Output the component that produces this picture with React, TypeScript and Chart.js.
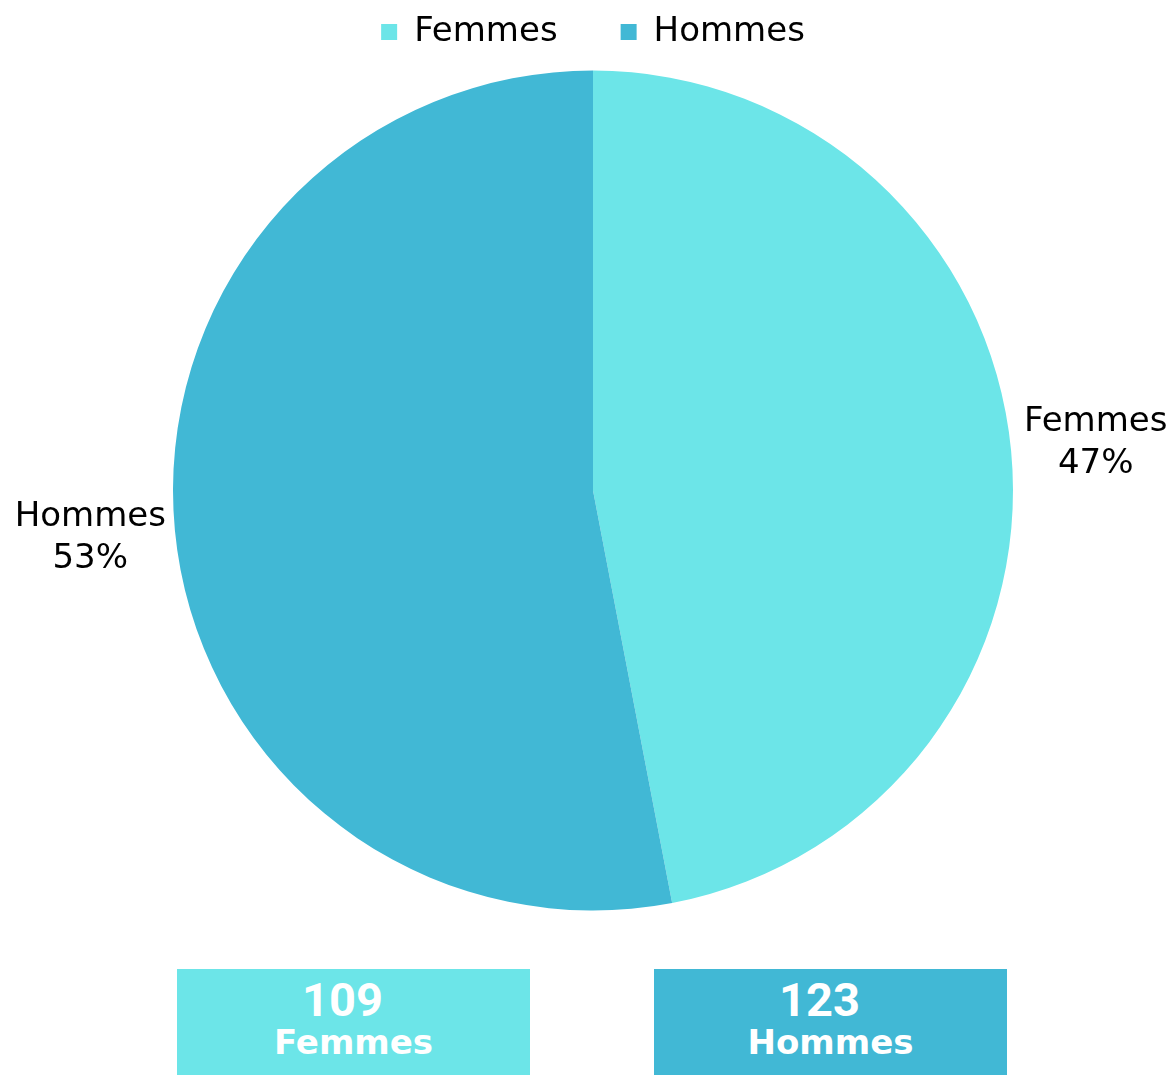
import React, { useEffect, useRef } from "react";
import { Chart, registerables } from "chart.js";

Chart.register(...registerables);

const categories = ["Femmes", "Hommes"];
const counts = [109, 123];
const colors = ["#6CE5E8", "#41B8D5"];

const FONT = '"DejaVu Sans", sans-serif';
const LABEL_OFFSET = 85;

const outsideLabels = {
  id: "outsideLabels",
  afterDatasetsDraw(chart: any) {
    const ctx = chart.ctx;
    const meta = chart.getDatasetMeta(0);
    const data = chart.data.datasets[0].data as number[];
    const total = data.reduce((a: number, b: number) => a + b, 0);
    ctx.save();
    ctx.font = `34px ${FONT}`;
    ctx.fillStyle = "#000";
    ctx.textAlign = "center";
    ctx.textBaseline = "middle";
    meta.data.forEach((arc: any, i: number) => {
      const p = arc.getProps(["x", "y", "startAngle", "endAngle", "outerRadius"], true);
      const mid = (p.startAngle + p.endAngle) / 2;
      const r = p.outerRadius + LABEL_OFFSET;
      const lx = p.x + Math.cos(mid) * r;
      const ly = p.y + Math.sin(mid) * r;
      const pct = Math.round((data[i] / total) * 100);
      ctx.fillText(chart.data.labels[i], lx, ly - 21);
      ctx.fillText(pct + "%", lx, ly + 21);
    });
    ctx.restore();
  },
};

export default function App() {
  const ref = useRef<HTMLCanvasElement>(null);
  useEffect(() => {
    if (!ref.current) return;
    const chart = new Chart(ref.current, {
      type: "pie",
      data: {
        labels: categories,
        datasets: [
          {
            data: counts,
            backgroundColor: colors,
            borderWidth: 0,
            radius: 420,
          } as any,
        ],
      },
      options: {
        responsive: false,
        animation: false,
        layout: { padding: { left: 17, right: 0, top: 0, bottom: 0 } },
        plugins: {
          tooltip: { enabled: false },
          legend: {
            position: "top",
            labels: {
              boxWidth: 16,
              boxHeight: 16,
              padding: 63,
              color: "#000",
              font: { size: 34, family: FONT },
            },
          },
        },
      },
      plugins: [outsideLabels],
    });
    return () => chart.destroy();
  }, []);

  const boxes = [
    { left: 177, color: colors[0] },
    { left: 654, color: colors[1] },
  ];

  return (
    <div
      style={{
        position: "absolute",
        left: 0,
        top: 0,
        width: 1169,
        height: 1075,
        overflow: "hidden",
        background: "#fff",
      }}
    >
      <canvas
        ref={ref}
        width={1169}
        height={970}
        style={{ position: "absolute", left: 0, top: -48, width: 1169, height: 970 }}
      />
      {categories.map((c, i) => (
        <div
          key={c}
          style={{
            position: "absolute",
            left: boxes[i].left,
            top: 969,
            width: 353,
            height: 106,
            background: boxes[i].color,
            color: "#fff",
            textAlign: "center",
          }}
        >
          <div
            style={{
              position: "absolute",
              left: 0,
              right: 0,
              top: 30 - 23,
              paddingRight: 22,
              fontFamily: "Roboto, sans-serif",
              fontWeight: 700,
              fontSize: 47,
              lineHeight: "47px",
            }}
          >
            {counts[i]}
          </div>
          <div
            style={{
              position: "absolute",
              left: 0,
              right: 0,
              top: 73 - 17,
              fontFamily: FONT,
              fontWeight: 700,
              fontSize: 34,
              lineHeight: "34px",
            }}
          >
            {c}
          </div>
        </div>
      ))}
    </div>
  );
}
